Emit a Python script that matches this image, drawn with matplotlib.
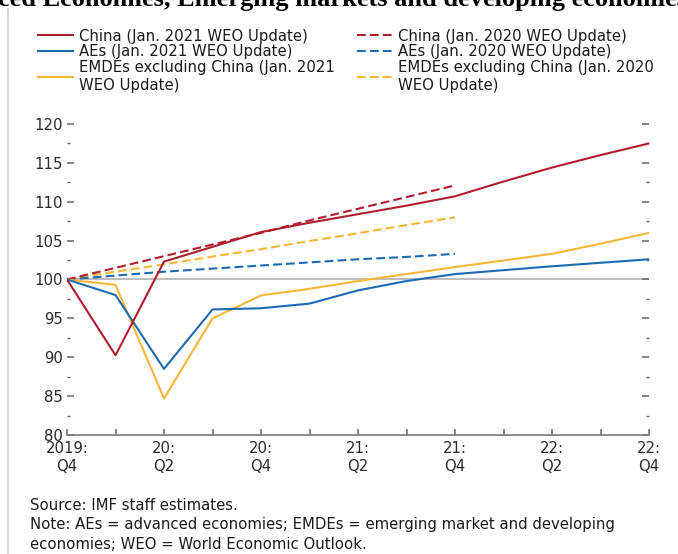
import matplotlib
matplotlib.use("Agg")
import matplotlib.pyplot as plt
from matplotlib.lines import Line2D
from matplotlib.ticker import FixedLocator

# ---- data ----
quarters = ["2019:\nQ4", "", "20:\nQ2", "", "20:\nQ4", "", "21:\nQ2", "",
            "21:\nQ4", "", "22:\nQ2", "", "22:\nQ4"]
china_2021 = [100, 90.25, 102.3, 104.2, 106.1, 107.3, 108.4, 109.5, 110.7, 112.6, 114.4, 116.0, 117.5]
aes_2021 = [100, 98.0, 88.5, 96.15, 96.3, 96.9, 98.6, 99.8, 100.7, 101.2, 101.7, 102.15, 102.6]
emdes_2021 = [100, 99.3, 84.7, 95.0, 97.95, 98.8, 99.8, 100.7, 101.6, 102.45, 103.3, 104.6, 106.0]
china_2020 = [100, 101.5, 103.0, 104.5, 106.0, 107.6, 109.1, 110.6, 112.1]
aes_2020 = [100, 100.5, 101.0, 101.4, 101.8, 102.2, 102.6, 102.9, 103.3]
emdes_2020 = [100, 101.0, 101.95, 102.95, 103.9, 104.95, 105.95, 107.0, 108.0]

labels = ["China (Jan. 2021 WEO Update)", "AEs (Jan. 2021 WEO Update)",
          "EMDEs excluding China (Jan. 2021\nWEO Update)",
          "China (Jan. 2020 WEO Update)", "AEs (Jan. 2020 WEO Update)",
          "EMDEs excluding China (Jan. 2020\nWEO Update)"]

RED = "#B01E2D"
BLUE = "#1D6AB4"
YELLOW = "#F6B638"
FS = 10.7

plt.rcParams['font.family'] = ['DejaVu Sans']

W, H = 678, 554
fig = plt.figure(figsize=(W / 100, H / 100), dpi=100)

# axes placement (pixel based)
left_px, right_px = 67, 649
y80_px, y120_px = 435, 124
ppu = (y80_px - y120_px) / 40.0
ytop = 121
ax = fig.add_axes([left_px / W, (H - y80_px) / H, (right_px - left_px) / W,
                   (ytop - 80) * ppu / H])

x_all = list(range(len(quarters)))
x_old = list(range(len(china_2020)))

ax.axhline(100, color="#ababab", lw=1.1, zorder=1)

dash = (4.2, 2.0)
h_e20, = ax.plot(x_old, emdes_2020, color=YELLOW, lw=1.5, dashes=dash, zorder=2)
h_a20, = ax.plot(x_old, aes_2020, color=BLUE, lw=1.5, dashes=dash, zorder=2)
h_c20, = ax.plot(x_old, china_2020, color=RED, lw=1.5, dashes=dash, zorder=2)
h_e21, = ax.plot(x_all, emdes_2021, color=YELLOW, lw=1.5, zorder=3)
h_a21, = ax.plot(x_all, aes_2021, color=BLUE, lw=1.5, zorder=3)
h_c21, = ax.plot(x_all, china_2021, color=RED, lw=1.5, zorder=4)

ax.set_xlim(0, 12)
ax.set_ylim(80, ytop)

for s in ["top", "left", "right"]:
    ax.spines[s].set_visible(False)
ax.spines["bottom"].set_color("#7a7a7a")
ax.spines["bottom"].set_linewidth(1.2)

ax.yaxis.set_major_locator(FixedLocator([80, 85, 90, 95, 100, 105, 110, 115, 120]))
ax.yaxis.set_minor_locator(FixedLocator([82.5, 87.5, 92.5, 97.5, 102.5, 107.5, 112.5, 117.5]))
ax.tick_params(axis="y", which="both", direction="in", left=True, right=True,
               labelleft=True, labelright=False, colors="#666666", labelcolor="#2a2a2a",
               labelsize=FS, pad=3)
ax.tick_params(axis="y", which="major", length=5, width=1.1)
ax.tick_params(axis="y", which="minor", length=2.5, width=1.0)

ax.set_xticks(x_all)
ax.set_xticklabels(quarters)
ax.tick_params(axis="x", which="major", direction="in", length=4, width=1.1,
               colors="#666666", labelcolor="#2a2a2a", labelsize=FS, pad=4)
for t in ax.get_xticklabels():
    t.set_linespacing(1.3)

# legend
handles = [h_c21, h_a21, h_e21, h_c20, h_a20, h_e20]
leg = fig.legend(handles, labels, loc="upper left",
                 bbox_to_anchor=(38 / W, 1 - 28.5 / H), ncol=2, frameon=False,
                 fontsize=FS, handlelength=2.35, handletextpad=0.4,
                 columnspacing=1.5, labelspacing=0.04, borderpad=0,
                 borderaxespad=0)
for t in leg.get_texts():
    t.set_linespacing(1.3)
    t.set_color("#1a1a1a")

# footnote
fig.text(30 / W, 1 - 498 / H,
         "Source: IMF staff estimates.\n"
         "Note: AEs = advanced economies; EMDEs = emerging market and developing\n"
         "economies; WEO = World Economic Outlook.",
         ha="left", va="top", fontsize=FS, color="#1a1a1a", linespacing=1.37)

# title, cut off at the top edge as in the reference
fig.text(-77 / W, 1 - 6 / H,
         "Advanced Economies, Emerging markets and developing economies",
         ha="left", va="baseline", fontsize=19, fontweight="bold",
         family=["Liberation Serif", "DejaVu Serif"], color="black")

# left frame line
fig.add_artist(Line2D([8 / W, 8 / W], [0, 1 - 9 / H], transform=fig.transFigure,
                      color="#cfcfcf", lw=1.2))

fig.savefig("out.png", dpi=100)
